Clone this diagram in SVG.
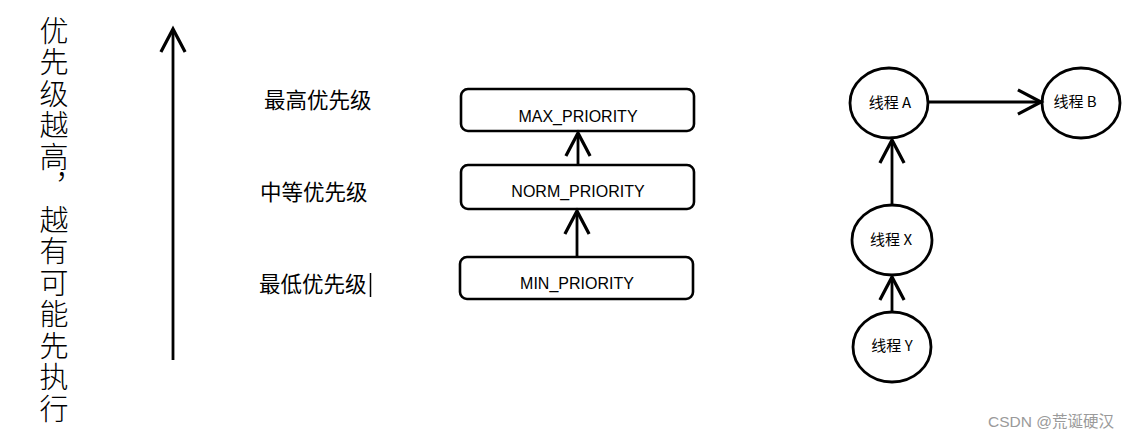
<svg xmlns="http://www.w3.org/2000/svg" width="1140" height="440" viewBox="0 0 1140 440">
<style>
.cjk{font-family:"Noto Sans CJK SC","Noto Sans",sans-serif;fill:#000}
.lbl{font-family:"Liberation Sans","Noto Sans CJK SC",sans-serif;font-size:16px;fill:#000;text-anchor:middle}
.box{fill:#fff;stroke:#000;stroke-width:2.6}
.node{fill:#fff;stroke:#000;stroke-width:2.8}
.edge{stroke:#000;stroke-width:2.8;fill:none}
</style>
<defs>
<marker id="arr" markerUnits="userSpaceOnUse" markerWidth="30" markerHeight="30" viewBox="-22 -13 26 26" refX="0" refY="0" orient="auto" overflow="visible">
<path d="M-20,-10.5 L0,0 L-20,10.5" fill="none" stroke="#000" stroke-width="2.8" stroke-linejoin="miter"/>
</marker>
</defs>
<rect width="1140" height="440" fill="#fff"/>
<g id="axis-text">
<text class="cjk" x="54" y="16" font-size="29" font-weight="300" letter-spacing="2.5" writing-mode="vertical-rl" style="writing-mode:vertical-rl">优先级越高，越有可能先执行</text>
</g>
<g id="axis-arrow">
<line class="edge" x1="173" y1="360" x2="173" y2="29" marker-end="url(#arr)"/>
</g>
<g id="level-labels" class="cjk" font-size="21.5">
<text x="264" y="108">最高优先级</text>
<text x="260" y="200">中等优先级</text>
<text x="259" y="292">最低优先级</text>
<line x1="370.5" y1="273" x2="370.5" y2="297" stroke="#000" stroke-width="1.5"/>
</g>
<g id="max">
<rect class="box" x="461" y="89" width="233" height="42" rx="7"/>
<text class="lbl" x="578" y="122">MAX_PRIORITY</text>
</g>
<g id="norm">
<rect class="box" x="461" y="165" width="233" height="44" rx="7"/>
<text class="lbl" x="578" y="197">NORM_PRIORITY</text>
</g>
<g id="min">
<rect class="box" x="460" y="257" width="233" height="42" rx="7"/>
<text class="lbl" x="577" y="289">MIN_PRIORITY</text>
</g>
<g id="threadA">
<ellipse class="node" cx="889" cy="103" rx="39" ry="35"/>
<text class="cjk" font-size="15" x="890" y="108" text-anchor="middle">线程 A</text>
</g>
<g id="threadB">
<ellipse class="node" cx="1081" cy="103" rx="39" ry="35"/>
<text class="cjk" font-size="15" x="1075" y="107" text-anchor="middle">线程 B</text>
</g>
<g id="threadX">
<ellipse class="node" cx="892" cy="240" rx="40" ry="35"/>
<text class="cjk" font-size="15" x="891" y="245" text-anchor="middle">线程 X</text>
</g>
<g id="threadY">
<ellipse class="node" cx="892" cy="347" rx="39" ry="35"/>
<text class="cjk" font-size="15" x="892" y="351" text-anchor="middle">线程 Y</text>
</g>
<g id="connectors">
<line class="edge" x1="578" y1="165" x2="578" y2="133" marker-end="url(#arr)"/>
<line class="edge" x1="577" y1="257" x2="577" y2="211" marker-end="url(#arr)"/>
<line class="edge" x1="928" y1="102" x2="1041" y2="102" marker-end="url(#arr)"/>
<line class="edge" x1="892" y1="205" x2="892" y2="140" marker-end="url(#arr)"/>
<line class="edge" x1="892" y1="312" x2="892" y2="277" marker-end="url(#arr)"/>
</g>
<g id="watermark">
<text x="988" y="427" font-family="'Liberation Sans','Noto Sans CJK SC',sans-serif" font-size="15.5" fill="#9a9a9a">CSDN @荒诞硬汉</text>
</g>
</svg>
